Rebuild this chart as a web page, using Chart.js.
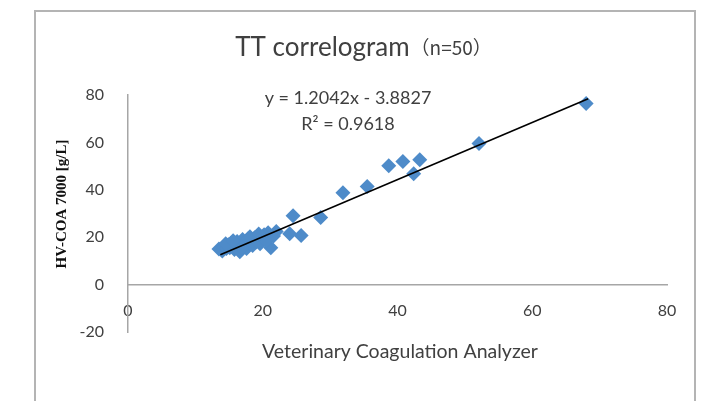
<!DOCTYPE html>
<html><head><meta charset="utf-8">
<script src="https://cdn.jsdelivr.net/npm/chart.js@4/dist/chart.umd.min.js"></script>
<style>html,body{margin:0;padding:0;background:#fff}#c{display:block}</style>
</head><body>
<canvas id="c" width="701" height="401"></canvas>
<script>
const titleMain = "TT correlogram";
const titleSub = "（n=50）";
const xTitle = "Veterinary Coagulation Analyzer";
const yTitle = "HV-COA 7000 [g/L]";
const equationLines = ["y = 1.2042x - 3.8827", "R² = 0.9618"];
const xTicks = [0, 20, 40, 60, 80];
const yTicks = [-20, 0, 20, 40, 60, 80];

// Veterinary Coagulation Analyzer readings (x) and HV-COA 7000 readings (y)
const xValues = [68.0, 52.1, 43.3, 40.8, 38.7, 42.4, 35.5, 31.9, 28.6, 24.5, 25.7, 24.0, 21.2, 22.0, 20.8,
  13.5, 14.0, 14.3, 14.6, 14.9, 15.1, 15.3, 15.5, 15.8, 16.0, 16.2, 16.4, 16.6, 16.8, 17.0, 17.2, 17.4, 17.6,
  17.8, 18.0, 18.3, 18.5, 18.8, 19.0, 19.3, 19.6, 19.9, 20.2, 20.5, 14.5, 15.6, 16.9, 18.1, 19.4, 21.6];
const yValues = [76.4, 59.5, 52.7, 51.9, 50.2, 46.8, 41.4, 38.8, 28.3, 29.1, 20.7, 21.5, 15.6, 22.4, 21.9,
  15.0, 14.2, 16.0, 15.2, 16.8, 15.5, 17.5, 16.2, 14.8, 17.0, 18.2, 16.0, 13.9, 17.6, 19.0, 16.8, 18.0, 15.2,
  19.2, 17.5, 18.6, 16.5, 19.8, 18.0, 20.4, 17.2, 19.0, 21.0, 18.5, 17.2, 18.5, 15.5, 20.2, 21.3, 20.5];
// trendline endpoints as drawn in the reference
const trendX = [13.7, 68.3];
const trendY = [12.6, 78.4];

const points = xValues.map((x, i) => ({x: x, y: yValues[i]}));
const trend = trendX.map((x, i) => ({x: x, y: trendY[i]}));

const TXT = '#404040';
const FONT = 'Lato, "Noto Sans", sans-serif';

const decor = {
  id: 'decor',
  beforeDraw(chart) {
    const ctx = chart.ctx;
    ctx.save();
    ctx.strokeStyle = '#b4b4b4';
    ctx.lineWidth = 2;
    ctx.beginPath();
    ctx.moveTo(35, 401);
    ctx.lineTo(35, 11);
    ctx.lineTo(695, 11);
    ctx.lineTo(695, 401);
    ctx.stroke();
    ctx.restore();
  },
  afterDraw(chart) {
    const ctx = chart.ctx;
    const ca = chart.chartArea;
    ctx.save();
    ctx.fillStyle = TXT;
    ctx.textBaseline = 'alphabetic';
    // main title with mixed sizes
    ctx.font = '26px ' + FONT;
    const w1 = ctx.measureText(titleMain).width;
    ctx.font = '19px "Noto Sans CJK SC", ' + FONT;
    const w2 = ctx.measureText(titleSub).width;
    let tx = 363 - (w1 + w2) / 2;
    ctx.textAlign = 'left';
    ctx.font = '26px ' + FONT;
    ctx.fillText(titleMain, tx, 56);
    ctx.font = '19px "Noto Sans CJK SC", ' + FONT;
    ctx.fillText(titleSub, tx + w1 + 1, 55);
    // equation label
    ctx.textAlign = 'center';
    ctx.font = '18px ' + FONT;
    ctx.fillText(equationLines[0], 348, 104);
    ctx.fillText(equationLines[1], 348, 130);
    // x-axis title
    ctx.font = '19.5px ' + FONT;
    ctx.fillText(xTitle, 400, 358);
    // y-axis title (rotated)
    ctx.fillStyle = '#111';
    ctx.translate(62, 204);
    ctx.rotate(-Math.PI / 2);
    ctx.textBaseline = 'middle';
    ctx.font = 'bold 15px "Liberation Serif", "DejaVu Serif", serif';
    ctx.fillText(yTitle, 0, 0);
    ctx.restore();
  }
};

new Chart(document.getElementById('c'), {
  type: 'scatter',
  data: {
    datasets: [
      {
        label: 'data',
        data: points,
        pointStyle: 'rectRot',
        pointRadius: 7.5,
        pointHoverRadius: 7.5,
        backgroundColor: '#4e8bc9',
        borderColor: '#4e8bc9',
        borderWidth: 0,
        order: 2
      },
      {
        type: 'line',
        label: 'trend',
        data: trend,
        borderColor: '#000000',
        borderWidth: 1.6,
        pointRadius: 0,
        fill: false,
        order: 1
      }
    ]
  },
  options: {
    responsive: false,
    animation: false,
    devicePixelRatio: 1,
    layout: {padding: {top: 95, bottom: 69, left: 0, right: 34}},
    plugins: {legend: {display: false}, tooltip: {enabled: false}, title: {display: false}},
    scales: {
      x: {
        type: 'linear',
        position: {y: 0},
        min: xTicks[0], max: xTicks[xTicks.length - 1],
        afterBuildTicks: s => { s.ticks = xTicks.map(v => ({value: v})); },
        afterFit: s => { s.height = 0; },
        grid: {display: false, drawTicks: false},
        border: {display: true, color: '#a6a6a6', width: 1.5},
        ticks: {color: TXT, font: {family: FONT, size: 16}, padding: 17, maxRotation: 0, autoSkip: false}
      },
      y: {
        type: 'linear',
        position: 'left',
        min: yTicks[0], max: yTicks[yTicks.length - 1],
        afterBuildTicks: s => { s.ticks = yTicks.map(v => ({value: v})); },
        afterFit: s => { s.width = 128; },
        grid: {display: false, drawTicks: false},
        border: {display: true, color: '#a6a6a6', width: 1.5},
        ticks: {color: TXT, font: {family: FONT, size: 16}, padding: 24},
        title: {display: false}
      }
    }
  },
  plugins: [decor]
});
</script>
</body></html>
